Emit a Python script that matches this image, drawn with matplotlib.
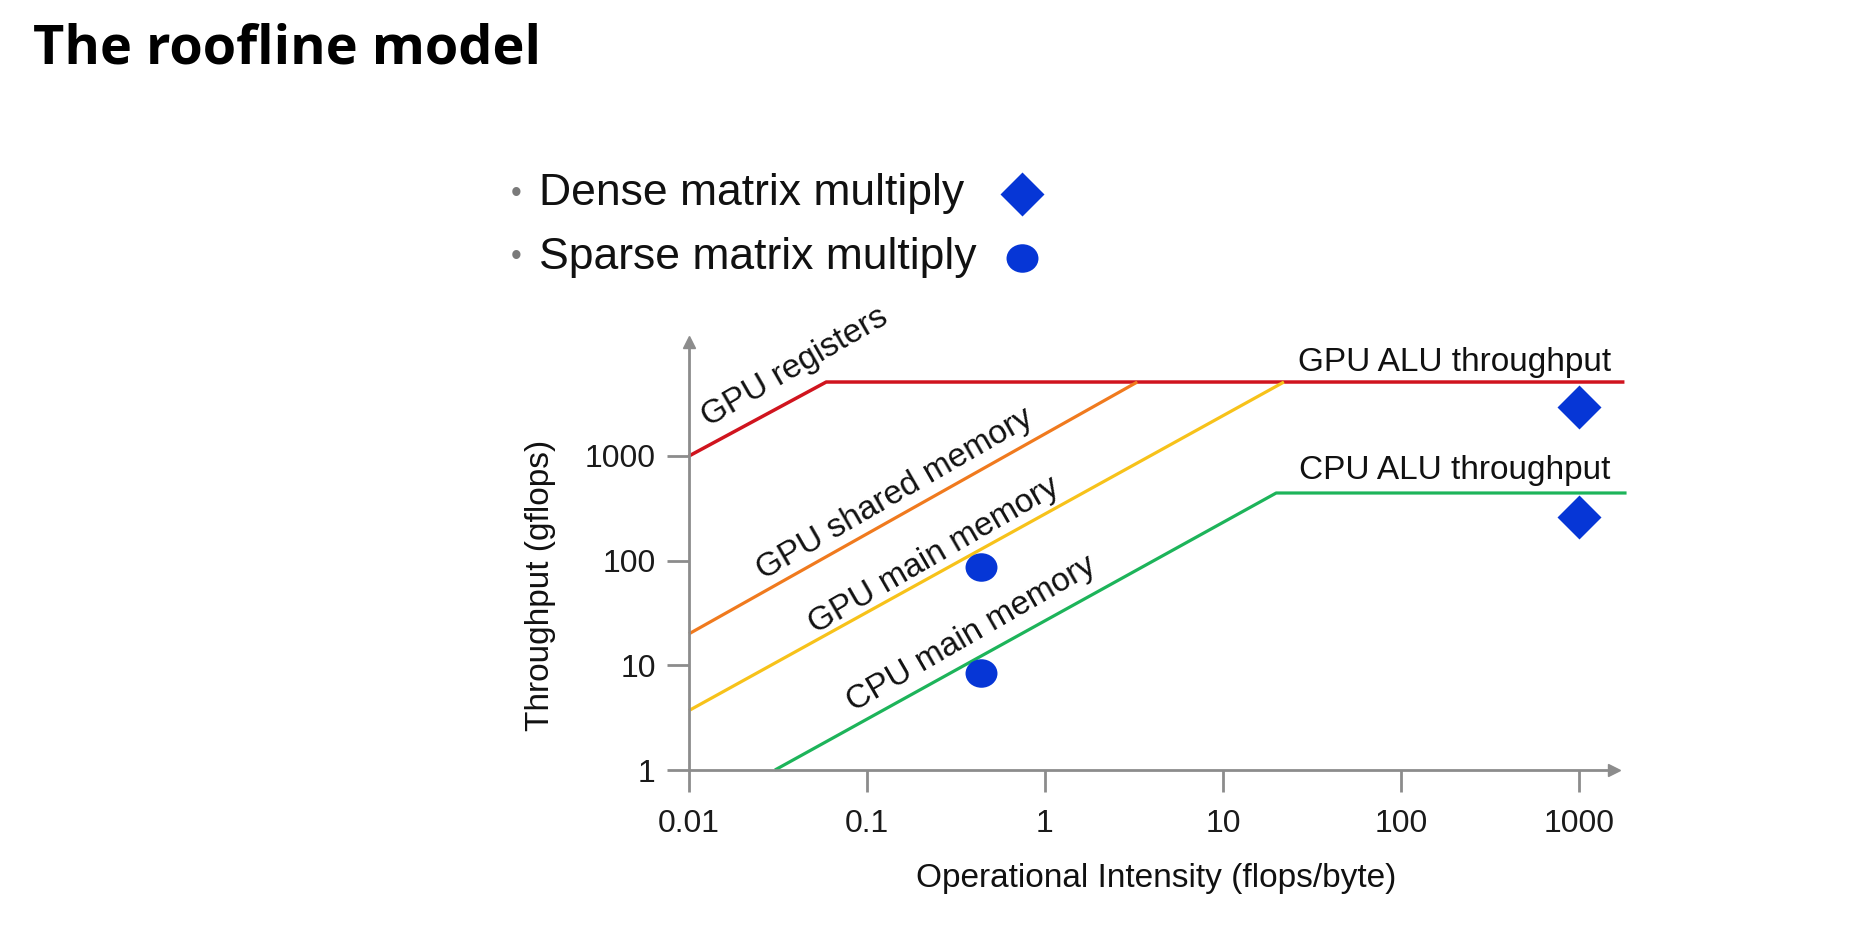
import matplotlib
matplotlib.use("Agg")
import matplotlib.pyplot as plt
import numpy as np
from matplotlib.path import Path

plt.rcParams["font.family"] = ["Liberation Sans", "DejaVu Sans"]

# roofline data (operational intensity, gflops)
reg_x = [0.01, 0.059, 1800]
reg_y = [1000, 5090, 5090]
shared_x = [0.01, 3.3]
shared_y = [20, 5090]
gpumem_x = [0.01, 22]
gpumem_y = [3.7, 5090]
cpu_x = [0.0304, 19.9, 1850]
cpu_y = [1, 443, 443]

dense_x = [1000, 1000]
dense_y = [2940, 261]
sparse_x = [0.436, 0.436]
sparse_y = [87, 8.5]

xticks = [0.01, 0.1, 1, 10, 100, 1000]
xticklabels = ["0.01", "0.1", "1", "10", "100", "1000"]
yticks = [1, 10, 100, 1000]
yticklabels = ["1", "10", "100", "1000"]

W, H = 1868, 936
fig = plt.figure(figsize=(W / 100, H / 100), dpi=100)


def px(x, y):
    return x / W, 1 - y / H


# axes box in pixels: left 689, right 1614, bottom 770, top 342
right = 1614
ax = fig.add_axes([689 / W, 1 - 770 / H, (right - 689) / W, (770 - 342) / H])
ax.set_xscale("log")
ax.set_yscale("log")
ax.set_xlim(0.01, 10 ** ((right - 689) / 178 - 2))
ax.set_ylim(1, 10 ** ((770 - 342) / 104.67))

gray = "#8c8c8c"
blue = "#0636d6"
ax.plot(reg_x, reg_y, color="#d0141e", lw=2.5, solid_capstyle="butt", clip_on=False)
ax.plot(shared_x, shared_y, color="#f07a1e", lw=2.3, solid_capstyle="butt", clip_on=False)
ax.plot(gpumem_x, gpumem_y, color="#f7c21a", lw=2.3, solid_capstyle="butt", clip_on=False)
ax.plot(cpu_x, cpu_y, color="#1db45a", lw=2.3, solid_capstyle="butt", clip_on=False)

# slightly wide circle marker like the picture
circ = Path.unit_circle()
oval = Path(circ.vertices * np.array([1.12, 1.0]), circ.codes)

ax.plot(dense_x, dense_y, "D", color=blue, ms=22, mec="none", clip_on=False)
ax.plot(sparse_x, sparse_y, marker=oval, ls="none", color=blue, ms=23, mec="none", clip_on=False)

for s in ["top", "right"]:
    ax.spines[s].set_visible(False)
for s in ["left", "bottom"]:
    ax.spines[s].set_color(gray)
    ax.spines[s].set_linewidth(2)
ax.set_xticks(xticks)
ax.set_xticklabels(xticklabels)
ax.set_yticks(yticks)
ax.set_yticklabels(yticklabels)
ax.minorticks_off()
ax.tick_params(axis="both", length=16, width=2, color=gray, labelsize=23, labelcolor="#1a1a1a")
ax.tick_params(axis="x", pad=12)
ax.tick_params(axis="y", pad=8)
ax.patch.set_visible(False)

# arrow heads at the axis ends
ax.plot([0], [1], "^", color=gray, ms=9, transform=ax.transAxes, clip_on=False)
ax.plot([1], [0], ">", color=gray, ms=9, transform=ax.transAxes, clip_on=False)

# line labels
lab = dict(fontsize=24, color="#111111", ha="center", va="center", rotation_mode="anchor")
fig.text(*px(795, 367), "GPU registers", rotation=30, **lab)
fig.text(*px(895, 494), "GPU shared memory", rotation=30, **lab)
fig.text(*px(934, 556), "GPU main memory", rotation=30, **lab)
fig.text(*px(971, 634), "CPU main memory", rotation=30, **lab)
fig.text(*px(1455, 362), "GPU ALU throughput", **lab)
fig.text(*px(1455, 471), "CPU ALU throughput", **lab)

# axis titles
fig.text(*px(541, 585), "Throughput (gflops)", rotation=90, **lab)
fig.text(*px(1156, 879), "Operational Intensity (flops/byte)", **lab)

# legend at top
for yy, name in [(194, "Dense matrix multiply"), (257, "Sparse matrix multiply")]:
    fig.text(*px(516, yy), "\u2022", fontsize=22, color="#7a7a7a", ha="center", va="center")
    fig.text(*px(539, yy), name, fontsize=32, color="#111111", ha="left", va="center")
fx, fy = px(1022, 194)
ax.plot([fx], [fy], "D", color=blue, ms=22, mec="none", transform=fig.transFigure, clip_on=False)
fx, fy = px(1022, 258)
ax.plot([fx], [fy], marker=oval, color=blue, ms=23, mec="none", transform=fig.transFigure, clip_on=False)

# page title
fig.text(*px(33, 64), "The roofline model", fontsize=39, fontweight="bold",
         family=["Open Sans", "DejaVu Sans"], color="black", ha="left", va="baseline")

fig.savefig("out.png", dpi=100, facecolor="white")
